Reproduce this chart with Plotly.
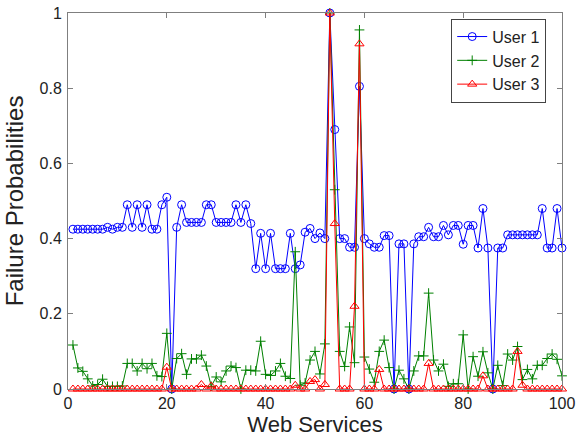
import plotly.graph_objects as go

services = list(range(1, 101))

user1 = [0.425, 0.425, 0.425, 0.425, 0.425, 0.425, 0.425, 0.43, 0.425, 0.43,
         0.43, 0.49, 0.43, 0.49, 0.43, 0.49, 0.425, 0.425, 0.49, 0.51,
         0.0, 0.43, 0.49, 0.443, 0.443, 0.443, 0.443, 0.49, 0.49, 0.443,
         0.443, 0.443, 0.443, 0.49, 0.443, 0.49, 0.44, 0.32, 0.414, 0.32,
         0.414, 0.32, 0.32, 0.32, 0.414, 0.32, 0.33, 0.417, 0.427, 0.40,
         0.415, 0.40, 1.0, 0.69, 0.40, 0.40, 0.377, 0.377, 0.805, 0.40,
         0.386, 0.377, 0.377, 0.408, 0.408, 0.0, 0.386, 0.386, 0.0, 0.386,
         0.405, 0.405, 0.43, 0.405, 0.405, 0.435, 0.41, 0.435, 0.435, 0.385,
         0.435, 0.435, 0.375, 0.48, 0.375, 0.0, 0.375, 0.375, 0.41, 0.41,
         0.41, 0.41, 0.41, 0.41, 0.41, 0.48, 0.375, 0.375, 0.48, 0.375]

user2 = [0.117, 0.056, 0.047, 0.027, 0.008, 0.012, 0.026, 0.007, 0.007, 0.007,
         0.008, 0.068, 0.068, 0.048, 0.068, 0.054, 0.068, 0.035, 0.033, 0.148,
         0.0, 0.081, 0.094, 0.039, 0.08, 0.08, 0.09, 0.061, 0.007, 0.032,
         0.019, 0.048, 0.061, 0.057, 0.0, 0.05, 0.05, 0.048, 0.127, 0.039,
         0.036, 0.048, 0.068, 0.034, 0.028, 0.365, 0.01, 0.016, 0.077, 0.10,
         0.04, 0.12, 1.0, 0.53, 0.10, 0.06, 0.165, 0.07, 0.955, 0.085,
         0.053, 0.018, 0.10, 0.13, 0.057, 0.0, 0.05, 0.027, 0.0, 0.048,
         0.088, 0.088, 0.255, 0.077, 0.048, 0.066, 0.007, 0.014, 0.014, 0.144,
         0.0, 0.086, 0.034, 0.099, 0.043, 0.0, 0.063, 0.009, 0.093, 0.077,
         0.113, 0.025, 0.052, 0.027, 0.063, 0.063, 0.081, 0.093, 0.079, 0.035]

user3 = [0.0] * 100
user3_peaks = {20: 0.058, 27: 0.012, 29: 0.008, 46: 0.01, 49: 0.02, 50: 0.025,
               52: 0.012, 53: 1.0, 54: 0.44, 58: 0.22, 59: 0.918, 63: 0.052,
               73: 0.068, 84: 0.035, 91: 0.10, 92: 0.01}
for k, v in user3_peaks.items():
    user3[k - 1] = v

x_ticks = [0, 20, 40, 60, 80, 100]
y_ticks = [0, 0.2, 0.4, 0.6, 0.8, 1]
y_tick_labels = ["0", "0.2", "0.4", "0.6", "0.8", "1"]

FONT = "Liberation Sans, Arial, Helvetica, sans-serif"

fig = go.Figure()
fig.add_trace(go.Scatter(
    x=services, y=user1, name="User 1", mode="lines+markers",
    line=dict(color="#0000ff", width=1),
    marker=dict(symbol="circle-open", size=8, color="#0000ff", line=dict(width=1)),
    cliponaxis=False))
fig.add_trace(go.Scatter(
    x=services, y=user2, name="User 2", mode="lines+markers",
    line=dict(color="#008000", width=1),
    marker=dict(symbol="cross-thin-open", size=7, color="#008000",
                line=dict(width=1, color="#008000")),
    cliponaxis=False))
fig.add_trace(go.Scatter(
    x=services, y=user3, name="User 3", mode="lines+markers",
    line=dict(color="#ff0000", width=1),
    marker=dict(symbol="triangle-up-open", size=8, color="#ff0000", line=dict(width=1)),
    cliponaxis=False))

axis_common = dict(
    showline=True, linecolor="#7f7f7f", linewidth=1, mirror="ticks",
    ticks="inside", ticklen=5, tickcolor="#7f7f7f", showgrid=False, zeroline=False,
    automargin=False,
    tickfont=dict(family=FONT, size=16, color="#222222"),
)

fig.update_layout(
    width=577, height=437,
    margin=dict(l=68, r=15, t=13, b=48, autoexpand=False),
    paper_bgcolor="white", plot_bgcolor="white",
    font=dict(family=FONT, color="#222222"),
    xaxis=dict(range=[0, 100], tickvals=x_ticks, ticklabelstandoff=0,
               title=dict(text="Web Services", font=dict(size=22), standoff=5),
               **axis_common),
    yaxis=dict(range=[0, 1], tickvals=y_ticks, ticktext=y_tick_labels,
               ticklabelstandoff=2,
               title=dict(text="Failure Probabilities", font=dict(size=24), standoff=9),
               **axis_common),
    legend=dict(x=0.968, y=0.985, xanchor="right", yanchor="top",
                bgcolor="white", bordercolor="#444444", borderwidth=1,
                font=dict(size=16, color="#222222"), tracegroupgap=0),
    showlegend=True,
)

fig.write_html("out.html",
               config={"displayModeBar": False},
               post_script="document.body.style.margin='0';document.body.style.overflow='hidden';")
